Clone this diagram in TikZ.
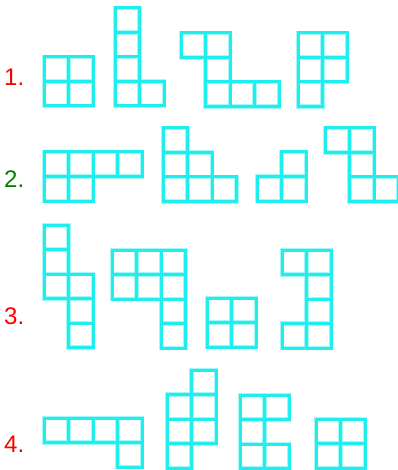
\documentclass[tikz,border=0pt]{standalone}
\usepackage{fontspec}
\setmainfont{Liberation Sans}
\definecolor{tileCyan}{HTML}{1EEEEE}
\definecolor{labelRed}{HTML}{FF0000}
\definecolor{labelGreen}{HTML}{008000}
\tikzset{
  glow/.style     = {draw=tileCyan!40, line width=4.2pt},
  tile/.style     = {draw=tileCyan, line width=3pt},
  numlabel/.style = {anchor=base west, inner sep=0pt,
                     font=\fontsize{24}{28}\selectfont}
}
\newcommand{\cellsize}{24.5}
% #1 = left, #2 = top, #3 = cells as column/row
\newcommand{\drawpiece}[3]{%
  \foreach \i/\j in {#3}
    \draw[glow] ({#1+\i*\cellsize},{#2+\j*\cellsize}) rectangle ++(\cellsize,\cellsize);
  \foreach \i/\j in {#3}
    \draw[tile] ({#1+\i*\cellsize},{#2+\j*\cellsize}) rectangle ++(\cellsize,\cellsize);
}
\begin{document}
\begin{tikzpicture}[x=1pt, y=-1pt]
\useasboundingbox (0,0) rectangle (397,470);

% row 1
\node[numlabel, text=labelRed] (num1) at (4,86) {1.};
\drawpiece{44}{57}{0/0,1/0,0/1,1/1}
\drawpiece{115}{8}{0/0,0/1,0/2,0/3,1/3}
\drawpiece{181}{33}{0/0,1/0,1/1,1/2,2/2,3/2}
\drawpiece{298}{33}{0/0,1/0,0/1,1/1,0/2}

% row 2
\node[numlabel, text=labelGreen] (num2) at (4,187) {2.};
\drawpiece{44}{152}{0/0,1/0,2/0,3/0,0/1,1/1}
\drawpiece{163}{128}{0/0,0/1,1/1,0/2,1/2,2/2}
\drawpiece{257}{152}{1/0,0/1,1/1}
\drawpiece{325}{128}{0/0,1/0,1/1,1/2,2/2}

% row 3
\node[numlabel, text=labelRed] (num3) at (4,324) {3.};
\drawpiece{44}{225}{0/0,0/1,0/2,1/2,1/3,1/4}
\drawpiece{112}{250}{0/0,1/0,2/0,0/1,1/1,2/1,2/2,2/3}
\drawpiece{207}{298}{0/0,1/0,0/1,1/1}
\drawpiece{282}{250}{0/0,1/0,1/1,1/2,0/3,1/3}

% row 4
\node[numlabel, text=labelRed] (num4) at (4,452) {4.};
\drawpiece{44}{418}{0/0,1/0,2/0,3/0,3/1}
\drawpiece{167}{370}{1/0,0/1,1/1,0/2,1/2,0/3}
\drawpiece{240}{395}{0/0,1/0,0/1,0/2,1/2}
\drawpiece{316}{419}{0/0,1/0,0/1,1/1}
\end{tikzpicture}
\end{document}
